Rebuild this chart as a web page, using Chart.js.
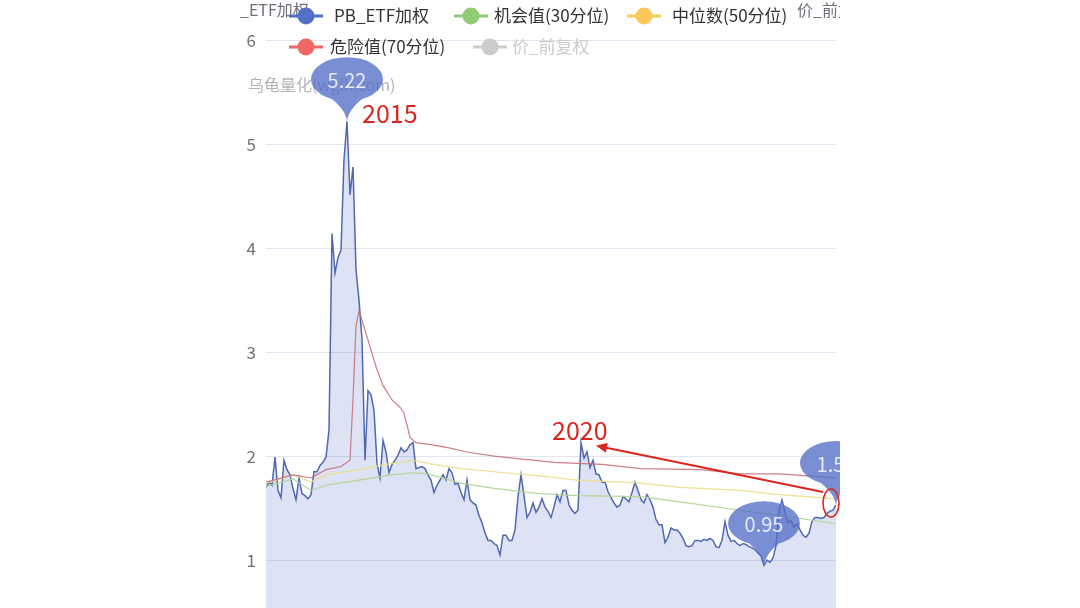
<!DOCTYPE html>
<html>
<head>
<meta charset="utf-8">
<script src="https://cdn.jsdelivr.net/npm/chart.js@4"></script>
<style>
  html, body { margin: 0; padding: 0; background: #fff; }
  #wrap { width: 1080px; height: 608px; }
</style>
</head>
<body>
<div id="wrap"><canvas id="pbChart" width="1080" height="608"></canvas></div>
<script>
// PB_ETF加权 (one sample every ~3 weeks)
const pbValues = [
  1.70, 1.75, 1.72, 1.99, 1.67, 1.60, 1.96, 1.87, 1.82, 1.69,
  1.58, 1.79, 1.64, 1.62, 1.59, 1.63, 1.85, 1.85, 1.91, 1.94,
  1.99, 2.25, 4.14, 3.76, 3.91, 3.98, 4.85, 5.22, 4.51, 4.78,
  3.79, 3.50, 3.12, 1.96, 2.63, 2.59, 2.44, 1.93, 1.79, 2.15,
  2.04, 1.84, 1.92, 1.96, 2.01, 2.08, 2.04, 2.06, 2.11, 2.13,
  1.88, 1.89, 1.90, 1.88, 1.82, 1.77, 1.65, 1.72, 1.77, 1.82,
  1.77, 1.88, 1.84, 1.73, 1.74, 1.65, 1.58, 1.77, 1.58, 1.55,
  1.53, 1.43, 1.36, 1.26, 1.19, 1.19, 1.16, 1.14, 1.05, 1.24,
  1.24, 1.19, 1.19, 1.29, 1.61, 1.82, 1.62, 1.41, 1.46, 1.55,
  1.46, 1.51, 1.59, 1.51, 1.47, 1.41, 1.51, 1.63, 1.56, 1.67,
  1.67, 1.53, 1.48, 1.45, 1.48, 2.13, 1.98, 2.04, 1.89, 1.96,
  1.83, 1.82, 1.75, 1.75, 1.66, 1.60, 1.55, 1.51, 1.53, 1.61,
  1.59, 1.56, 1.65, 1.75, 1.67, 1.58, 1.55, 1.63, 1.58, 1.51,
  1.39, 1.34, 1.34, 1.17, 1.22, 1.31, 1.29, 1.29, 1.26, 1.21,
  1.14, 1.13, 1.14, 1.19, 1.19, 1.18, 1.20, 1.19, 1.21, 1.19,
  1.13, 1.12, 1.19, 1.37, 1.24, 1.18, 1.19, 1.16, 1.14, 1.16,
  1.15, 1.13, 1.12, 1.10, 1.07, 1.04, 0.95, 1.00, 0.98, 1.02,
  1.14, 1.48, 1.58, 1.46, 1.36, 1.38, 1.32, 1.35, 1.29, 1.24,
  1.22, 1.26, 1.37, 1.41, 1.41, 1.40, 1.41, 1.45, 1.47, 1.48,
  1.53
];

// 危险值(70分位): sample index -> value
const pct70Idx = [0, 9, 15, 20, 25, 28, 29, 30, 31, 33, 35, 37, 39, 42, 45, 46, 47, 48, 50, 55, 61, 67, 76, 96, 112, 125, 145, 158, 171, 190];
const pct70 = [1.75, 1.82, 1.79, 1.87, 1.90, 1.96, 2.55, 3.25, 3.40, 3.21, 3.02, 2.83, 2.68, 2.54, 2.46, 2.41, 2.30, 2.18, 2.13, 2.11, 2.08, 2.04, 2.00, 1.94, 1.92, 1.88, 1.87, 1.83, 1.83, 1.79];

// 中位数(50分位) and 机会值(30分位)
const pctIdx = [0, 9, 15, 20, 31, 42, 49, 54, 65, 76, 91, 104, 125, 138, 158, 171, 190];
const pct50 = [1.74, 1.82, 1.75, 1.82, 1.87, 1.93, 1.96, 1.93, 1.88, 1.85, 1.81, 1.77, 1.74, 1.70, 1.67, 1.63, 1.59];
const pct30 = [1.71, 1.78, 1.67, 1.72, 1.77, 1.82, 1.84, 1.83, 1.74, 1.69, 1.64, 1.62, 1.61, 1.56, 1.48, 1.43, 1.35];

const yTicks = [1, 2, 3, 4, 5, 6];
const seriesNames = ['PB_ETF加权', '机会值(30分位)', '中位数(50分位)', '危险值(70分位)', '价_前复权'];
const seriesColors = ['#5470c6', '#91cc75', '#fac858', '#ee6666', '#cccccc'];

const FONT = '"Noto Sans CJK SC", "Noto Sans", sans-serif';

function toPoints(idx, vals) {
    return vals.map(function (v, i) { return { x: idx[i], y: v }; });
}
const pbPoints = pbValues.map(function (v, i) { return { x: i, y: v }; });

// balloon marker like echarts markPoint 'pin'
function drawPin(ctx, cx, tipY, label) {
    const rx = 36, ry = 22, cy = tipY - 42;
    ctx.save();
    ctx.fillStyle = 'rgba(84,112,198,0.78)';
    ctx.beginPath();
    ctx.ellipse(cx, cy, rx, ry, 0, 0, Math.PI * 2);
    ctx.moveTo(cx + rx * 0.6, cy + ry * 0.7);
    ctx.quadraticCurveTo(cx + 2, cy + ry + 6, cx, tipY);
    ctx.quadraticCurveTo(cx - 2, cy + ry + 6, cx - rx * 0.6, cy + ry * 0.7);
    ctx.closePath();
    ctx.fill();
    ctx.fillStyle = 'rgba(236,239,250,0.95)';
    ctx.font = '20px ' + FONT;
    ctx.textAlign = 'center';
    ctx.textBaseline = 'middle';
    ctx.fillText(label, cx, cy + 1);
    ctx.restore();
}

function drawLegendItem(ctx, cx, y, textX, color, text, textColor) {
    ctx.strokeStyle = color;
    ctx.lineWidth = 3;
    ctx.beginPath();
    ctx.moveTo(cx - 17, y);
    ctx.lineTo(cx + 17, y);
    ctx.stroke();
    ctx.fillStyle = color;
    ctx.beginPath();
    ctx.arc(cx, y, 8.5, 0, Math.PI * 2);
    ctx.fill();
    ctx.fillStyle = textColor;
    ctx.font = '17px ' + FONT;
    ctx.textAlign = 'left';
    ctx.textBaseline = 'middle';
    ctx.fillText(text, textX, y);
}

const overlayPlugin = {
    id: 'overlay',
    afterDraw: function (chart) {
        const ctx = chart.ctx;
        const xs = chart.scales.x, ys = chart.scales.y;
        const px = function (i) { return xs.getPixelForValue(i); };
        const py = function (v) { return ys.getPixelForValue(v); };

        ctx.save();
        // watermark + axis names
        ctx.textBaseline = 'middle';
        ctx.textAlign = 'left';
        ctx.font = '16px ' + FONT;
        ctx.fillStyle = '#b4b4b4';
        ctx.fillText('乌龟量化(wglh.com)', 248, 85);
        ctx.fillStyle = '#6e7079';
        ctx.fillText('_ETF加权', 240, 10);
        ctx.fillText('价_前复权', 797, 10);

        // legend
        drawLegendItem(ctx, 306, 16, 334, seriesColors[0], seriesNames[0], '#333');
        drawLegendItem(ctx, 471, 16, 494, seriesColors[1], seriesNames[1], '#333');
        drawLegendItem(ctx, 644, 16, 672, seriesColors[2], seriesNames[2], '#333');
        drawLegendItem(ctx, 306, 47, 330, seriesColors[3], seriesNames[3], '#333');
        drawLegendItem(ctx, 490, 47, 512, seriesColors[4], seriesNames[4], '#cccccc');

        // pins: max, min, latest
        const maxV = Math.max.apply(null, pbValues);
        const minV = Math.min.apply(null, pbValues);
        const iMax = pbValues.indexOf(maxV);
        const iMin = pbValues.indexOf(minV);
        const iLast = pbValues.length - 1;
        drawPin(ctx, px(iMax), py(maxV), maxV.toFixed(2));
        drawPin(ctx, px(iMin), py(minV), minV.toFixed(2));
        drawPin(ctx, px(iLast), py(pbValues[iLast]), pbValues[iLast].toFixed(2));

        // hand annotations
        let i20 = 100;
        for (let i = 100; i < 130; i++) if (pbValues[i] > pbValues[i20]) i20 = i;
        const red = '#d9271e';
        ctx.fillStyle = red;
        ctx.font = '25px ' + FONT;
        ctx.textAlign = 'left';
        ctx.fillText('2015', px(iMax) + 15, py(maxV) - 8);
        ctx.fillText('2020', px(i20) - 29, py(pbValues[i20]) - 12);

        const lx = px(iLast), ly = py(pbValues[iLast]);
        ctx.strokeStyle = red;
        ctx.lineWidth = 1.6;
        ctx.beginPath();
        ctx.ellipse(lx - 5, ly - 2, 8, 14, 0, 0, Math.PI * 2);
        ctx.stroke();

        const ax0 = lx - 13, ay0 = ly - 13;
        const ax1 = px(i20) + 15, ay1 = py(pbValues[i20]) + 3;
        const ang = Math.atan2(ay1 - ay0, ax1 - ax0);
        ctx.lineWidth = 2;
        ctx.beginPath();
        ctx.moveTo(ax0, ay0);
        ctx.lineTo(ax1 - 8 * Math.cos(ang), ay1 - 8 * Math.sin(ang));
        ctx.stroke();
        ctx.beginPath();
        ctx.moveTo(ax1, ay1);
        ctx.lineTo(ax1 - 11 * Math.cos(ang) + 5 * Math.sin(ang), ay1 - 11 * Math.sin(ang) - 5 * Math.cos(ang));
        ctx.lineTo(ax1 - 11 * Math.cos(ang) - 5 * Math.sin(ang), ay1 - 11 * Math.sin(ang) + 5 * Math.cos(ang));
        ctx.closePath();
        ctx.fill();

        // the screenshot is cut off on the right
        ctx.fillStyle = '#ffffff';
        ctx.fillRect(840, 0, 240, 608);
        ctx.restore();
    }
};

const ctxPb = document.getElementById('pbChart').getContext('2d');
new Chart(ctxPb, {
    type: 'line',
    data: {
        datasets: [
            {
                label: seriesNames[0],
                data: pbPoints,
                borderColor: '#5068b2',
                borderWidth: 1.5,
                backgroundColor: 'rgba(84,112,198,0.2)',
                fill: 'start',
                pointRadius: 0,
                tension: 0,
                order: 4
            },
            {
                label: seriesNames[1],
                data: toPoints(pctIdx, pct30),
                borderColor: 'rgba(176,214,148,0.95)',
                borderWidth: 1.2,
                fill: false,
                pointRadius: 0,
                order: 3
            },
            {
                label: seriesNames[2],
                data: toPoints(pctIdx, pct50),
                borderColor: 'rgba(236,222,140,0.95)',
                borderWidth: 1.2,
                fill: false,
                pointRadius: 0,
                order: 2
            },
            {
                label: seriesNames[3],
                data: toPoints(pct70Idx, pct70),
                borderColor: 'rgba(200,112,122,0.9)',
                borderWidth: 1.2,
                fill: false,
                pointRadius: 0,
                order: 1
            }
        ]
    },
    options: {
        responsive: false,
        animation: false,
        devicePixelRatio: 1,
        layout: {
            autoPadding: false,
            padding: { left: 0, right: 244, top: 0, bottom: 0 }
        },
        scales: {
            x: {
                type: 'linear',
                display: false,
                min: 0,
                max: pbValues.length - 1
            },
            y: {
                min: 0.54,
                max: 6.385,
                afterBuildTicks: function (axis) {
                    axis.ticks = yTicks.map(function (v) { return { value: v }; });
                },
                afterFit: function (axis) {
                    axis.width = 266;
                    axis.paddingTop = 0;
                    axis.paddingBottom = 0;
                },
                ticks: {
                    color: '#6e7079',
                    padding: 10,
                    font: { size: 17, family: FONT }
                },
                grid: { color: '#e0e6f1', drawTicks: false },
                border: { display: false }
            }
        },
        plugins: {
            legend: { display: false },
            tooltip: { enabled: false }
        }
    },
    plugins: [overlayPlugin]
});
</script>
</body>
</html>
